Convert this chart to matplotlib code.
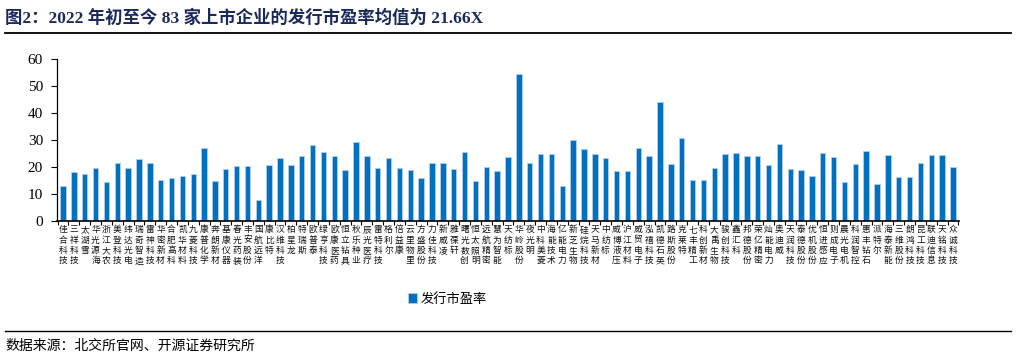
import matplotlib
matplotlib.use('Agg')
import matplotlib.pyplot as plt
from matplotlib.lines import Line2D
import numpy as np

# 2022年初至今北交所上市企业 发行市盈率
companies = ['佳合科技', '三祥科技', '太湖雪', '华光源海', '浙江大农', '美登科技', '纬达光电',
             '瑞奇智造', '雷神科技', '华密新材', '合肥高科', '凯华材料', '九菱科技', '康普化学',
             '奔朗新材', '基康仪器', '春光药装', '丰安股份', '国航远洋', '康比特', '汉维科技',
             '柏星龙', '特瑞斯', '欧普泰', '绿亨科技', '欧康医药', '恒立钻具', '秋乐种业',
             '辰光医疗', '雷特科技', '格利尔', '倍益康', '云里物里', '方盛股份', '力佳科技',
             '新威凌', '雅葆轩', '曙光数创', '恒太照明', '远航精密', '慧为智能', '天纺标',
             '华岭股份', '夜光明', '中科美菱', '海能技术', '亿能电力', '新芝生物', '硅烷科技',
             '天马新材', '中纺标', '威博液压', '沪江材料', '威贸电子', '泓禧科技', '凯德石英',
             '路斯股份', '克莱特', '七丰精工', '科创新材', '大禹生物', '骏创科技', '鑫汇科',
             '邦德股份', '荣亿精密', '灿能电力', '奥迪威', '天润科技', '泰德股份', '优机股份',
             '恒进感应', '则成电子', '晨光电机', '科润智控', '惠丰钻石', '派特尔', '海泰新能',
             '三维股份', '朗鸿科技', '昆工科技', '联迪信息', '天铭科技', '众诚科技']
pe = [13.0, 18.1, 17.3, 19.5, 14.5, 21.6, 19.8, 23.0, 21.6, 15.2, 15.9, 16.6, 17.3, 27.1,
      14.7, 19.1, 20.4, 20.2, 7.8, 20.6, 23.5, 20.9, 24.0, 28.0, 25.4, 24.2, 18.8, 29.4,
      24.2, 19.6, 23.3, 19.8, 19.0, 16.1, 21.6, 21.4, 19.2, 25.5, 14.9, 20.0, 18.6, 23.8,
      54.4, 21.6, 24.7, 24.9, 13.1, 30.1, 26.8, 25.0, 23.5, 18.6, 18.5, 27.1, 24.2, 43.9,
      21.1, 30.9, 15.1, 15.2, 19.6, 24.8, 25.3, 24.2, 23.9, 20.6, 28.4, 19.1, 18.8, 16.5,
      25.2, 23.8, 14.3, 21.1, 26.0, 13.6, 24.5, 16.2, 16.2, 21.3, 24.3, 24.3, 20.0]
yticks = [0, 10, 20, 30, 40, 50, 60]

cjk = ['Noto Sans CJK SC', 'DejaVu Sans']
serif = ['Liberation Serif', 'Noto Sans CJK SC']
navy = '#1B2A5C'
blue = '#0070C0'

fig = plt.figure(figsize=(10.16, 3.56), dpi=100)
ax = fig.add_axes([57 / 1016, 1 - 221 / 356, 902 / 1016, 162 / 356])

x = np.arange(len(companies))
ax.bar(x, pe, width=0.5, color=blue, edgecolor='#B4CDEB', linewidth=0.6, label='发行市盈率')

ax.set_xlim(-0.55, len(companies) - 0.45)
ax.set_ylim(0, 60)
ax.set_yticks(yticks)
ax.set_yticklabels([str(v) for v in yticks], family=serif, fontsize=11)
ax.tick_params(axis='y', direction='out', length=4, width=0.8, pad=6)

ax.set_xticks(x)
ax.set_xticklabels(['\n'.join(c) for c in companies], family=cjk, fontsize=6.3,
                   linespacing=1.2, va='top', color='#111111')
ax.tick_params(axis='x', length=0, pad=3)
ax.set_xticks(np.arange(len(companies) + 1) - 0.5, minor=True)
ax.tick_params(axis='x', which='minor', direction='out', length=3, width=0.8)

for s in ['top', 'right']:
    ax.spines[s].set_visible(False)
ax.spines['left'].set_linewidth(0.9)
ax.spines['bottom'].set_linewidth(1.2)

leg = fig.legend(loc='center left', bbox_to_anchor=(396 / 1016, 1 - 299 / 356), frameon=False,
                 prop={'family': cjk, 'size': 9.5}, handlelength=0.7, handleheight=0.7,
                 handletextpad=0.3)

fig.text(5 / 1016, 1 - 18 / 356, '图2：2022 年初至今 83 家上市企业的发行市盈率均值为 21.66X',
         family=serif, fontsize=12.5, fontweight='bold', color=navy, va='center')
fig.add_artist(Line2D([5 / 1016, 1011 / 1016], [1 - 33 / 356] * 2, color='black', lw=1.3))
fig.add_artist(Line2D([5 / 1016, 1011 / 1016], [1 - 331 / 356] * 2, color='black', lw=1.0))
fig.text(5 / 1016, 1 - 346 / 356, '数据来源：北交所官网、开源证券研究所',
         family=cjk, fontsize=10, color='black', va='center')

fig.savefig('out.png', dpi=100)
